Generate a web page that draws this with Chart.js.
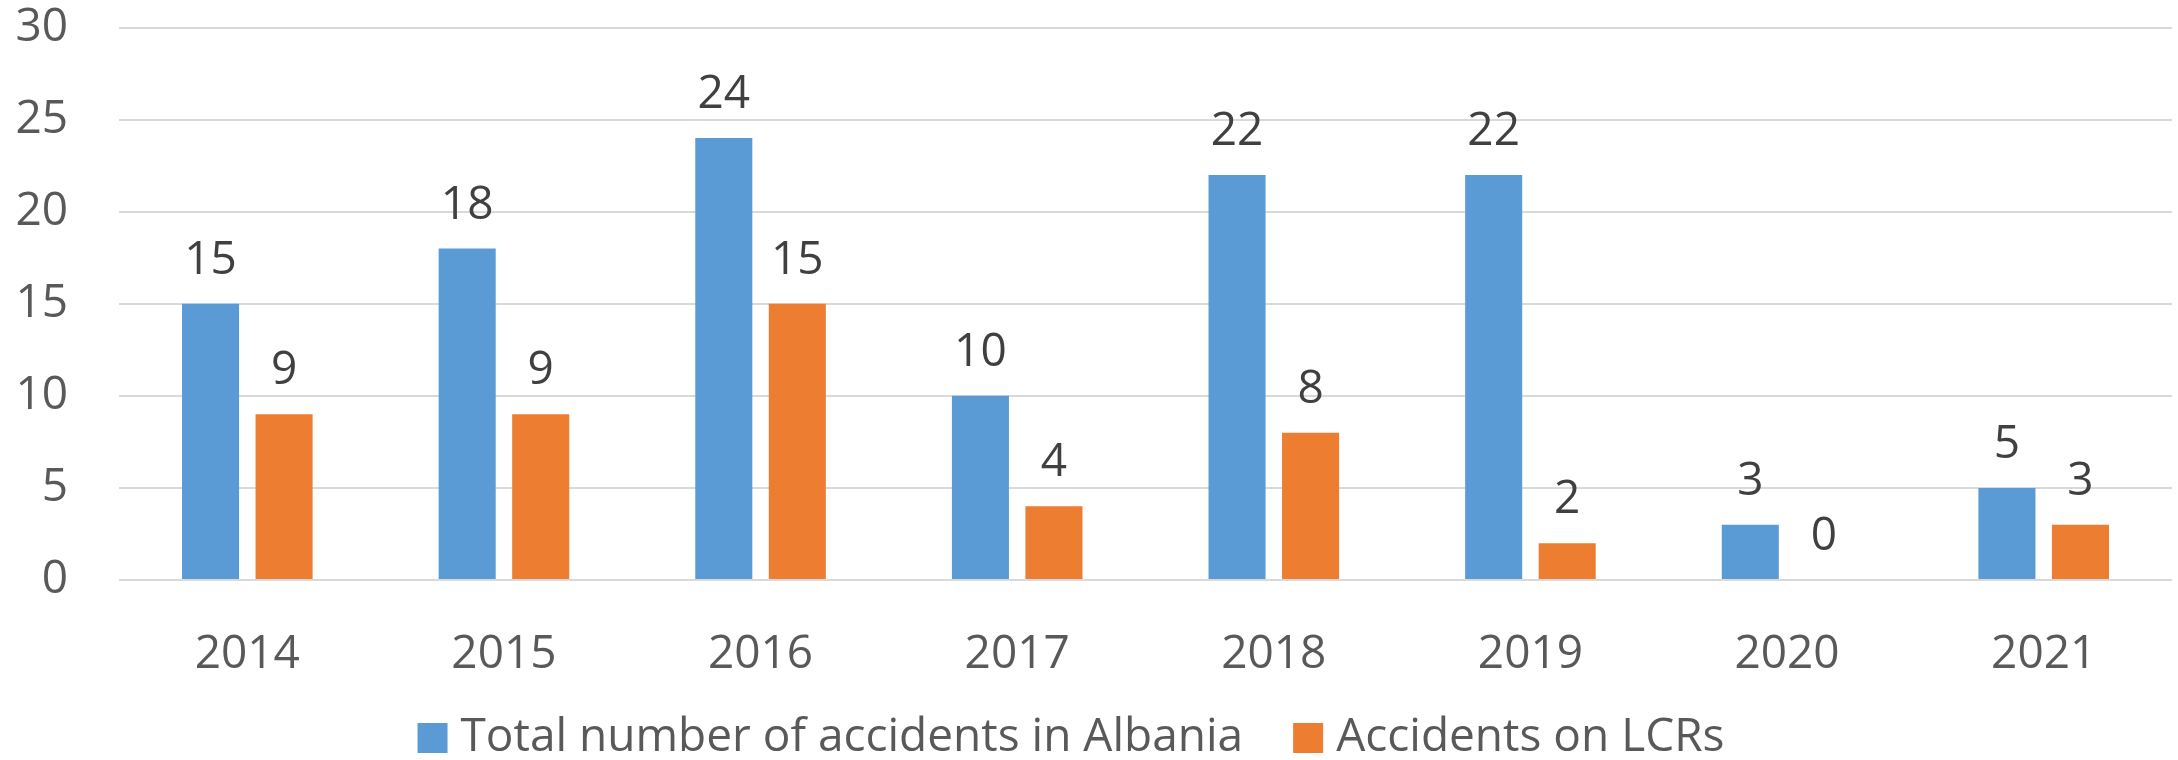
<!DOCTYPE html>
<html>
<head>
<meta charset="utf-8">
<script src="https://cdn.jsdelivr.net/npm/chart.js@4"></script>
<style>
    body { margin: 0; background: #fff; }
    #wrap { width: 2178px; height: 760px; }
</style>
</head>
<body>
<div id="wrap"><canvas id="myChart"></canvas></div>
<script>
var years = ["2014", "2015", "2016", "2017", "2018", "2019", "2020", "2021"];
var totalAccidents = [15, 18, 24, 10, 22, 22, 3, 5];
var lcrAccidents = [9, 9, 15, 4, 8, 2, 0, 3];
var seriesNames = ["Total number of accidents in Albania", "Accidents on LCRs"];
var yTicks = [0, 5, 10, 15, 20, 25, 30];

var fontFamily = "'Open Sans', 'Noto Sans', sans-serif";

// value labels above each bar
var barLabels = {
    id: "barLabels",
    afterDatasetsDraw(chart) {
        var ctx = chart.ctx;
        ctx.save();
        ctx.font = "46px " + fontFamily;
        ctx.fillStyle = "#404040";
        ctx.textAlign = "center";
        ctx.textBaseline = "middle";
        chart.data.datasets.forEach((ds, i) => {
            chart.getDatasetMeta(i).data.forEach((bar, j) => {
                ctx.fillText(ds.data[j], bar.x, bar.y - 43);
            });
        });
        ctx.restore();
    }
};

// legend drawn by hand so box/text spacing looks like the original
var bottomLegend = {
    id: "bottomLegend",
    afterDraw(chart) {
        var ctx = chart.ctx;
        ctx.save();
        ctx.font = "46px " + fontFamily;
        ctx.textBaseline = "middle";
        var box = 30, gap = 13, between = 50;
        var widths = chart.data.datasets.map(ds => ctx.measureText(ds.label).width);
        var total = widths.reduce((a, w) => a + box + gap + w, 0) + between * (widths.length - 1);
        var x = 1071 - total / 2;
        var y = 738;
        chart.data.datasets.forEach((ds, i) => {
            ctx.fillStyle = ds.backgroundColor;
            ctx.fillRect(x, y - box / 2, box, box);
            ctx.fillStyle = "#595959";
            ctx.fillText(ds.label, x + box + gap, y);
            x += box + gap + widths[i] + between;
        });
        ctx.restore();
    }
};

var chartData = {
    labels: years,
    datasets: [{
        label: seriesNames[0],
        data: totalAccidents,
        backgroundColor: "#5B9BD5",
        categoryPercentage: 0.573,
        barPercentage: 0.776
    }, {
        label: seriesNames[1],
        data: lcrAccidents,
        backgroundColor: "#ED7D31",
        categoryPercentage: 0.573,
        barPercentage: 0.776
    }]
};

var graph = new Chart(document.getElementById("myChart"), {
    type: "bar",
    data: chartData,
    plugins: [barLabels, bottomLegend],
    options: {
        responsive: true,
        maintainAspectRatio: false,
        animation: false,
        layout: {
            padding: { top: 0, right: 6, left: 0, bottom: 0 }
        },
        plugins: {
            legend: { display: false },
            tooltip: { enabled: false }
        },
        scales: {
            x: {
                grid: { display: false },
                border: { display: false },
                ticks: {
                    color: "#595959",
                    font: { family: fontFamily, size: 46 },
                    padding: 39
                },
                afterFit(scale) { scale.height = 180; }
            },
            y: {
                min: 0,
                max: 30,
                afterBuildTicks(scale) {
                    scale.ticks = yTicks.map(v => ({ value: v }));
                },
                grid: {
                    color: "#d9d9d9",
                    lineWidth: 2,
                    drawTicks: true,
                    tickLength: 51,
                    tickColor: "transparent"
                },
                border: { display: false },
                ticks: {
                    color: "#595959",
                    font: { family: fontFamily, size: 46 },
                    padding: 0
                },
                afterFit(scale) { scale.width = 119; }
            }
        }
    }
});
</script>
</body>
</html>
